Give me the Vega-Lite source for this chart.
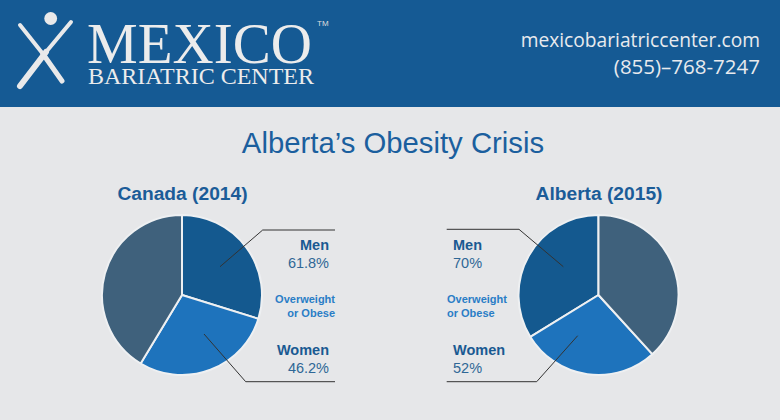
{
  "$schema": "https://vega.github.io/schema/vega-lite/v6.json",
  "autosize": {"type": "fit", "contains": "padding"},
  "width": 780,
  "height": 420,
  "padding": 0,
  "background": "#e6e7e9",
  "config": {
    "view": {"stroke": null},
    "axis": {"disable": true},
    "legend": {"disable": true},
    "text": {"font": "Liberation Sans"}
  },
  "datasets": {
    "pies": [
      {"region": "Canada (2014)", "group": "Men", "share": 107.3, "rank": 1, "rate": "61.8%"},
      {"region": "Canada (2014)", "group": "Women", "share": 103.8, "rank": 2, "rate": "46.2%"},
      {"region": "Canada (2014)", "group": "Other", "share": 148.9, "rank": 3, "rate": ""},
      {"region": "Alberta (2015)", "group": "Men", "share": 121.6, "rank": 1, "rate": "70%"},
      {"region": "Alberta (2015)", "group": "Women", "share": 100.7, "rank": 2, "rate": "52%"},
      {"region": "Alberta (2015)", "group": "Other", "share": 137.7, "rank": 3, "rate": ""}
    ]
  },
  "data": {"values": [{}]},
  "resolve": {"scale": {"theta": "independent"}},
  "layer": [
    {
      "mark": {"type": "rect", "color": "#155a94"},
      "encoding": {
        "x": {"datum": 0, "type": "quantitative", "scale": {"domain": [0, 780], "nice": false, "zero": false}},
        "x2": {"datum": 780},
        "y": {"datum": 0, "type": "quantitative", "scale": {"domain": [0, 420], "nice": false, "zero": false, "reverse": true}},
        "y2": {"datum": 107}
      }
    },
    {
      "mark": {"type": "point", "shape": "circle", "filled": true, "color": "#e9e9ea", "opacity": 1, "size": 165},
      "encoding": {"x": {"datum": 50.7}, "y": {"datum": 18.5}}
    },
    {
      "mark": {"type": "rule", "color": "#e9e9ea", "strokeWidth": 4, "strokeCap": "round"},
      "encoding": {"x": {"datum": 20}, "y": {"datum": 25}, "x2": {"datum": 43}, "y2": {"datum": 54}}
    },
    {
      "mark": {"type": "rule", "color": "#e9e9ea", "strokeWidth": 5, "strokeCap": "round"},
      "encoding": {"x": {"datum": 43}, "y": {"datum": 54}, "x2": {"datum": 62}, "y2": {"datum": 81}}
    },
    {
      "mark": {"type": "rule", "color": "#e9e9ea", "strokeWidth": 4, "strokeCap": "round"},
      "encoding": {"x": {"datum": 71}, "y": {"datum": 22}, "x2": {"datum": 46}, "y2": {"datum": 52}}
    },
    {
      "mark": {"type": "rule", "color": "#e9e9ea", "strokeWidth": 6, "strokeCap": "round"},
      "encoding": {"x": {"datum": 46}, "y": {"datum": 52}, "x2": {"datum": 20}, "y2": {"datum": 86}}
    },
    {
      "mark": {"type": "text", "font": "Liberation Serif", "fontSize": 57, "align": "left", "baseline": "alphabetic", "color": "#ececec", "text": "MEXICO"},
      "encoding": {"x": {"datum": 87}, "y": {"datum": 63}}
    },
    {
      "mark": {"type": "text", "font": "Liberation Sans", "fontSize": 8, "align": "left", "baseline": "alphabetic", "color": "#dddddd", "text": "TM"},
      "encoding": {"x": {"datum": 317}, "y": {"datum": 26}}
    },
    {
      "mark": {"type": "text", "font": "Liberation Serif", "fontSize": 24, "align": "left", "baseline": "alphabetic", "color": "#ececec", "text": "BARIATRIC CENTER"},
      "encoding": {"x": {"datum": 88}, "y": {"datum": 84}}
    },
    {
      "mark": {"type": "text", "font": "Open Sans", "fontSize": 19.2, "align": "right", "baseline": "alphabetic", "color": "#e8eaee", "text": "mexicobariatriccenter.com"},
      "encoding": {"x": {"datum": 760}, "y": {"datum": 47}}
    },
    {
      "mark": {"type": "text", "font": "Open Sans", "fontSize": 20.5, "align": "right", "baseline": "alphabetic", "color": "#e8eaee", "text": "(855)–768-7247"},
      "encoding": {"x": {"datum": 760}, "y": {"datum": 74}}
    },
    {
      "mark": {"type": "text", "fontSize": 29.3, "align": "center", "baseline": "alphabetic", "color": "#1b5f9e", "text": "Alberta’s Obesity Crisis"},
      "encoding": {"x": {"datum": 393}, "y": {"datum": 153}}
    },
    {
      "mark": {"type": "text", "fontSize": 19.2, "fontWeight": "bold", "align": "center", "baseline": "alphabetic", "color": "#1b5c98", "text": "Canada (2014)"},
      "encoding": {"x": {"datum": 182.5}, "y": {"datum": 200}}
    },
    {
      "mark": {"type": "text", "fontSize": 19.2, "fontWeight": "bold", "align": "center", "baseline": "alphabetic", "color": "#1b5c98", "text": "Alberta (2015)"},
      "encoding": {"x": {"datum": 599}, "y": {"datum": 200}}
    },
    {
      "data": {"name": "pies"},
      "transform": [{"filter": "datum.region === 'Canada (2014)'"}],
      "mark": {"type": "arc", "outerRadius": 80, "stroke": "#eef0f2", "strokeWidth": 2},
      "encoding": {
        "x": {"datum": 182},
        "y": {"datum": 295},
        "theta": {"field": "share", "type": "quantitative", "stack": true},
        "order": {"field": "rank", "type": "quantitative"},
        "color": {"field": "group", "type": "nominal", "scale": {"domain": ["Men", "Women", "Other"], "range": ["#14598f", "#1e73bc", "#3f617c"]}}
      }
    },
    {
      "data": {"name": "pies"},
      "transform": [{"filter": "datum.region === 'Alberta (2015)'"}],
      "mark": {"type": "arc", "outerRadius": 80, "stroke": "#eef0f2", "strokeWidth": 2},
      "encoding": {
        "x": {"datum": 598.5},
        "y": {"datum": 295},
        "theta": {"field": "share", "type": "quantitative", "stack": true, "scale": {"range": [6.2832, 0]}},
        "order": {"field": "rank", "type": "quantitative"},
        "color": {"field": "group", "type": "nominal"}
      }
    },
    {"mark": {"type": "rule", "color": "#333333", "strokeWidth": 1}, "encoding": {"x": {"datum": 220}, "y": {"datum": 266.7}, "x2": {"datum": 262.7}, "y2": {"datum": 230}}},
    {"mark": {"type": "rule", "color": "#333333", "strokeWidth": 1}, "encoding": {"x": {"datum": 262.7}, "y": {"datum": 230}, "x2": {"datum": 335}, "y2": {"datum": 230}}},
    {"mark": {"type": "rule", "color": "#333333", "strokeWidth": 1}, "encoding": {"x": {"datum": 204}, "y": {"datum": 334}, "x2": {"datum": 245.7}, "y2": {"datum": 381.7}}},
    {"mark": {"type": "rule", "color": "#333333", "strokeWidth": 1}, "encoding": {"x": {"datum": 245.7}, "y": {"datum": 381.7}, "x2": {"datum": 335}, "y2": {"datum": 381.7}}},
    {"mark": {"type": "rule", "color": "#333333", "strokeWidth": 1}, "encoding": {"x": {"datum": 563.3}, "y": {"datum": 266.7}, "x2": {"datum": 519}, "y2": {"datum": 229.3}}},
    {"mark": {"type": "rule", "color": "#333333", "strokeWidth": 1}, "encoding": {"x": {"datum": 519}, "y": {"datum": 229.3}, "x2": {"datum": 446.7}, "y2": {"datum": 229.3}}},
    {"mark": {"type": "rule", "color": "#333333", "strokeWidth": 1}, "encoding": {"x": {"datum": 577.7}, "y": {"datum": 335.7}, "x2": {"datum": 536.7}, "y2": {"datum": 381.7}}},
    {"mark": {"type": "rule", "color": "#333333", "strokeWidth": 1}, "encoding": {"x": {"datum": 536.7}, "y": {"datum": 381.7}, "x2": {"datum": 446.7}, "y2": {"datum": 381.7}}},
    {
      "mark": {"type": "text", "fontSize": 14.5, "fontWeight": "bold", "align": "right", "baseline": "alphabetic", "color": "#1a5a92", "text": "Men"},
      "encoding": {"x": {"datum": 329}, "y": {"datum": 249.5}}
    },
    {
      "data": {"name": "pies"},
      "transform": [{"filter": "datum.region === 'Canada (2014)' && datum.group === 'Men'"}],
      "mark": {"type": "text", "fontSize": 14.5, "align": "right", "baseline": "alphabetic", "color": "#2f6796"},
      "encoding": {"x": {"datum": 329}, "y": {"datum": 267.5}, "text": {"field": "rate"}}
    },
    {
      "mark": {"type": "text", "fontSize": 11, "fontWeight": "bold", "align": "right", "baseline": "alphabetic", "color": "#2a7dc6", "text": "Overweight"},
      "encoding": {"x": {"datum": 335}, "y": {"datum": 303}}
    },
    {
      "mark": {"type": "text", "fontSize": 11, "fontWeight": "bold", "align": "right", "baseline": "alphabetic", "color": "#2a7dc6", "text": "or Obese"},
      "encoding": {"x": {"datum": 335}, "y": {"datum": 316.5}}
    },
    {
      "mark": {"type": "text", "fontSize": 14.5, "fontWeight": "bold", "align": "right", "baseline": "alphabetic", "color": "#1a5a92", "text": "Women"},
      "encoding": {"x": {"datum": 329}, "y": {"datum": 355}}
    },
    {
      "data": {"name": "pies"},
      "transform": [{"filter": "datum.region === 'Canada (2014)' && datum.group === 'Women'"}],
      "mark": {"type": "text", "fontSize": 14.5, "align": "right", "baseline": "alphabetic", "color": "#2f6796"},
      "encoding": {"x": {"datum": 329}, "y": {"datum": 373}, "text": {"field": "rate"}}
    },
    {
      "mark": {"type": "text", "fontSize": 14.5, "fontWeight": "bold", "align": "left", "baseline": "alphabetic", "color": "#1a5a92", "text": "Men"},
      "encoding": {"x": {"datum": 453}, "y": {"datum": 249.5}}
    },
    {
      "data": {"name": "pies"},
      "transform": [{"filter": "datum.region === 'Alberta (2015)' && datum.group === 'Men'"}],
      "mark": {"type": "text", "fontSize": 14.5, "align": "left", "baseline": "alphabetic", "color": "#2f6796"},
      "encoding": {"x": {"datum": 453}, "y": {"datum": 267.5}, "text": {"field": "rate"}}
    },
    {
      "mark": {"type": "text", "fontSize": 11, "fontWeight": "bold", "align": "left", "baseline": "alphabetic", "color": "#2a7dc6", "text": "Overweight"},
      "encoding": {"x": {"datum": 447}, "y": {"datum": 303}}
    },
    {
      "mark": {"type": "text", "fontSize": 11, "fontWeight": "bold", "align": "left", "baseline": "alphabetic", "color": "#2a7dc6", "text": "or Obese"},
      "encoding": {"x": {"datum": 447}, "y": {"datum": 316.5}}
    },
    {
      "mark": {"type": "text", "fontSize": 14.5, "fontWeight": "bold", "align": "left", "baseline": "alphabetic", "color": "#1a5a92", "text": "Women"},
      "encoding": {"x": {"datum": 453}, "y": {"datum": 355}}
    },
    {
      "data": {"name": "pies"},
      "transform": [{"filter": "datum.region === 'Alberta (2015)' && datum.group === 'Women'"}],
      "mark": {"type": "text", "fontSize": 14.5, "align": "left", "baseline": "alphabetic", "color": "#2f6796"},
      "encoding": {"x": {"datum": 453}, "y": {"datum": 373}, "text": {"field": "rate"}}
    }
  ]
}
